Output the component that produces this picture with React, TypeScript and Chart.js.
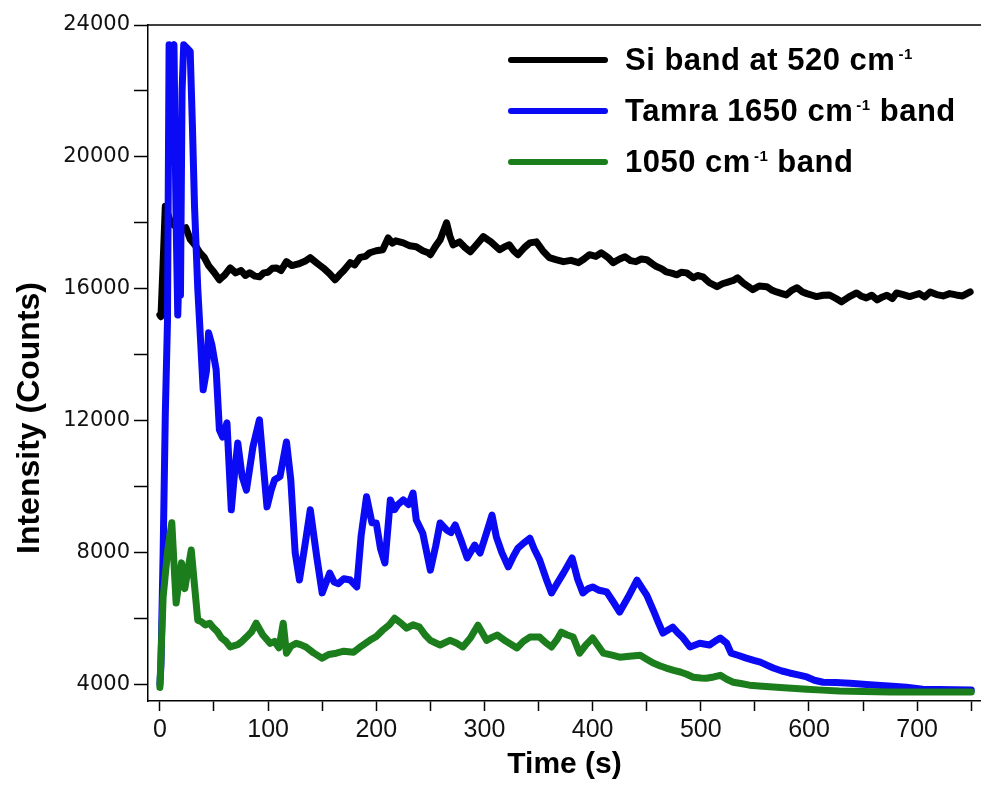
import React, { useEffect, useRef } from 'react';
import { Chart, registerables } from 'chart.js';

Chart.register(...registerables);

// ---- Data ----
const siTime = [0, 1, 3, 5, 7, 10, 14, 17, 20, 24, 28, 33, 37, 41, 45, 50, 55, 60, 65, 70, 75, 79, 83, 88, 92, 96, 100, 104, 108, 112, 117, 122, 128, 134, 139, 145, 151, 157, 162, 166, 170, 176, 180, 185, 190, 194, 200, 206, 211, 215, 218, 225, 231, 237, 243, 248, 250, 255, 259, 265, 268, 271, 277, 282, 287, 293, 299, 306, 314, 318, 323, 327, 331, 337, 342, 348, 354, 360, 366, 373, 380, 387, 392, 397, 403, 408, 414, 419, 425, 430, 435, 440, 445, 450, 455, 459, 464, 468, 473, 478, 482, 487, 493, 497, 502, 508, 515, 520, 525, 530, 534, 540, 548, 554, 561, 566, 570, 575, 579, 584, 589, 594, 598, 603, 607, 613, 619, 625, 630, 637, 644, 648, 653, 658, 663, 668, 672, 677, 681, 687, 693, 697, 702, 707, 712, 718, 724, 730, 736, 742, 749];
const siIntensity = [15200, 15150, 16800, 18500, 18300, 18000, 17900, 18050, 17800, 17850, 17500, 17300, 17090, 16950, 16700, 16500, 16270, 16420, 16630, 16480, 16550, 16400, 16480, 16380, 16360, 16480, 16500, 16620, 16630, 16550, 16820, 16700, 16750, 16830, 16940, 16780, 16630, 16450, 16270, 16420, 16550, 16790, 16720, 16950, 16980, 17090, 17150, 17180, 17540, 17380, 17450, 17390, 17300, 17270, 17150, 17090, 17030, 17300, 17480, 18000, 17600, 17330, 17420, 17250, 17120, 17350, 17580, 17420, 17180, 17260, 17330, 17150, 17030, 17250, 17390, 17420, 17150, 16940, 16880, 16820, 16860, 16790, 16900, 17030, 16980, 17090, 16950, 16790, 16900, 16970, 16850, 16820, 16900, 16880, 16760, 16670, 16600, 16510, 16470, 16420, 16500, 16480, 16330, 16400, 16360, 16180, 16060, 16150, 16200, 16250, 16330, 16150, 15970, 16080, 16060, 15950, 15900, 15850, 15810, 15950, 16030, 15900, 15850, 15800, 15760, 15800, 15810, 15700, 15600, 15750, 15870, 15780, 15720, 15800, 15660, 15750, 15800, 15700, 15870, 15820, 15760, 15800, 15850, 15750, 15900, 15820, 15780, 15850, 15810, 15780, 15900];

const tamraTime = [0, 1, 3, 5, 7, 8.5, 11, 13, 15, 16.5, 18, 19, 20.5, 22, 25, 28, 30, 32, 35, 37, 40, 43, 45, 48, 52, 55, 58, 62, 66, 69, 72, 76, 80, 86, 92, 96, 99, 103, 106, 111, 117, 121, 125, 129, 134, 139, 145, 150, 157, 161, 165, 170, 176, 182, 186, 191, 196, 200, 204, 208, 213, 217, 220, 225, 230, 234, 237, 243, 250, 255, 259, 265, 269, 273, 278, 284, 291, 296, 302, 307, 311, 316, 322, 327, 331, 337, 342, 346, 351, 357, 362, 368, 373, 381, 386, 391, 396, 400, 406, 413, 419, 425, 433, 441, 446, 450, 456, 461, 465, 470, 474, 479, 483, 490, 499, 508, 513, 518, 524, 528, 535, 542, 549, 555, 561, 567, 575, 582, 590, 598, 605, 613, 625, 638, 650, 663, 677, 690, 705, 720, 735, 750];
const tamraIntensity = [4000, 4600, 8000, 12200, 15000, 23400, 23300, 23400, 18000, 15200, 17000, 15800, 22000, 23400, 23300, 23200, 21000, 18500, 16000, 14800, 12930, 13500, 14660, 14300, 13540, 11720, 11500, 11930, 9290, 10400, 11320, 10300, 9890, 11200, 12020, 10500, 9380, 9900, 10200, 10300, 11350, 10200, 8000, 7160, 8200, 9290, 7860, 6770, 7370, 7100, 7050, 7200, 7160, 6950, 8500, 9690, 8900, 8890, 8100, 7680, 9590, 9300, 9450, 9590, 9450, 9800, 8980, 8580, 7460, 8200, 8890, 8680, 8600, 8830, 8400, 7830, 8220, 7980, 8600, 9130, 8470, 8000, 7560, 7900, 8130, 8300, 8430, 8100, 7770, 7200, 6770, 7100, 7370, 7830, 7200, 6770, 6900, 6950, 6850, 6800, 6500, 6190, 6650, 7160, 6900, 6700, 6250, 5850, 5550, 5650, 5730, 5550, 5430, 5130, 5240, 5190, 5300, 5400, 5240, 4940, 4870, 4790, 4720, 4670, 4580, 4490, 4400, 4340, 4280, 4220, 4120, 4060, 4050, 4030, 4000, 3970, 3940, 3910, 3850, 3840, 3830, 3820];

const band1050Time = [0, 3, 7, 11, 15, 18, 20, 23, 26, 29, 32, 35, 38, 42, 46, 49, 53, 57, 61, 65, 72, 76, 80, 85, 89, 95, 102, 106, 110, 114, 117, 121, 126, 130, 135, 142, 150, 156, 163, 170, 179, 186, 194, 200, 206, 212, 217, 223, 228, 234, 240, 245, 250, 255, 259, 268, 274, 280, 287, 294, 302, 307, 312, 320, 330, 336, 342, 351, 357, 362, 367, 371, 376, 382, 388, 394, 400, 410, 418, 425, 434, 444, 450, 456, 462, 468, 475, 481, 487, 493, 500, 505, 512, 518, 524, 530, 537, 545, 557, 570, 584, 598, 612, 628, 650, 675, 710, 750];
const band1050Intensity = [3900, 6650, 8000, 8900, 6460, 7200, 7680, 6900, 7500, 8070, 7000, 5940, 5900, 5800, 5850, 5730, 5600, 5400, 5300, 5130, 5200, 5300, 5430, 5600, 5850, 5500, 5240, 5300, 5100, 5850, 4940, 5150, 5240, 5200, 5130, 4950, 4790, 4900, 4940, 5000, 4970, 5150, 5330, 5450, 5640, 5800, 6000, 5850, 5700, 5800, 5730, 5500, 5330, 5250, 5190, 5330, 5250, 5130, 5400, 5790, 5330, 5420, 5490, 5300, 5100, 5300, 5430, 5430, 5250, 5130, 5350, 5580, 5500, 5430, 4940, 5200, 5400, 4940, 4880, 4820, 4850, 4880, 4760, 4640, 4560, 4490, 4420, 4370, 4300, 4210, 4190, 4180, 4220, 4270, 4150, 4060, 4020, 3970, 3940, 3910, 3880, 3850, 3820, 3790, 3780, 3760, 3760, 3760];

const xTickValues = [0, 50, 100, 150, 200, 250, 300, 350, 400, 450, 500, 550, 600, 650, 700, 750];
const yTickValues = [4000, 6000, 8000, 10000, 12000, 14000, 16000, 18000, 20000, 22000, 24000];

const seriesColors = ['#000000', '#0a0af5', '#1b7d1b'];
const legendMain = ['Si band at 520 cm', 'Tamra 1650 cm', '1050 cm'];
const legendSup = ['-1', '-1', '-1'];
const legendTail = ['', ' band', ' band'];

const xTitle = 'Time (s)';
const yTitle = 'Intensity (Counts)';

const SANS = '"Liberation Sans", Arial, Helvetica, sans-serif';

const frameAndTitlePlugin = {
  id: 'frameAndTitle',
  afterDraw(chart: any) {
    const { ctx, chartArea } = chart;
    ctx.save();
    ctx.strokeStyle = '#000';
    ctx.lineWidth = 1.5;
    ctx.beginPath();
    ctx.moveTo(chartArea.left, chartArea.top);
    ctx.lineTo(chartArea.right, chartArea.top);
    ctx.stroke();
    ctx.translate(chartArea.left - 118, chartArea.top + 393);
    ctx.rotate(-Math.PI / 2);
    ctx.font = `bold 32px ${SANS}`;
    ctx.fillStyle = '#000';
    ctx.textAlign = 'center';
    ctx.textBaseline = 'middle';
    ctx.fillText(yTitle, 0, 0);
    ctx.restore();
  },
};

export default function App() {
  const canvasRef = useRef<HTMLCanvasElement | null>(null);

  useEffect(() => {
    if (!canvasRef.current) return;
    const mk = (xs: number[], ys: number[]) => xs.map((x, i) => ({ x, y: ys[i] }));
    const lineStyle = { borderWidth: 7, pointRadius: 0, tension: 0, borderJoinStyle: 'round', borderCapStyle: 'round', fill: false };
    const chart = new Chart(canvasRef.current, {
      type: 'line',
      data: {
        datasets: [
          { label: legendMain[0], data: mk(siTime, siIntensity), borderColor: seriesColors[0], order: 3, ...lineStyle },
          { label: legendMain[1], data: mk(tamraTime, tamraIntensity), borderColor: seriesColors[1], order: 2, ...lineStyle },
          { label: legendMain[2], data: mk(band1050Time, band1050Intensity), borderColor: seriesColors[2], order: 1, ...lineStyle },
        ],
      },
      options: {
        animation: false,
        responsive: false,
        events: [],
        layout: { padding: { top: 25, left: 0, right: 0, bottom: 0 } },
        plugins: { legend: { display: false }, tooltip: { enabled: false } },
        elements: {
          point: { radius: 0 },
          line: { tension: 0, borderWidth: 7, borderJoinStyle: 'round', borderCapStyle: 'round', fill: false },
        },
        scales: {
          x: {
            type: 'linear',
            min: -11,
            max: 759,
            afterBuildTicks: (s: any) => {
              s.ticks = xTickValues.map((v) => ({ value: v }));
            },
            afterFit: (s: any) => {
              s.height = 84;
            },
            grid: { drawOnChartArea: false, drawTicks: true, tickLength: 10, tickWidth: 1.5, color: '#000', tickColor: '#000' },
            border: { display: true, color: '#000', width: 1.5 },
            ticks: {
              autoSkip: false,
              maxRotation: 0,
              padding: 4,
              color: '#111',
              font: { family: '"Liberation Sans Narrow", "Arial Narrow", ' + SANS, size: 25 },
              callback: (v: any) => (Number(v) % 100 === 0 ? String(v) : ''),
            },
            title: {
              display: true,
              text: xTitle,
              color: '#000',
              font: { family: SANS, size: 30, weight: 'bold' },
              padding: { top: 0, bottom: 2 },
            },
          },
          y: {
            type: 'linear',
            min: 3490,
            max: 24000,
            afterBuildTicks: (s: any) => {
              s.ticks = yTickValues.map((v) => ({ value: v }));
            },
            afterFit: (s: any) => {
              s.width = 148;
            },
            grid: { drawOnChartArea: false, drawTicks: true, tickLength: 14, tickWidth: 1.5, color: '#000', tickColor: '#000' },
            border: { display: true, color: '#000', width: 1.5 },
            ticks: {
              autoSkip: false,
              padding: 4,
              color: '#111',
              font: { family: '"DejaVu Sans", ' + SANS, size: 21 },
              callback: (v: any) => (Number(v) % 4000 === 0 ? String(v) : ''),
            },
          },
        },
      },
      plugins: [frameAndTitlePlugin],
    } as any);
    return () => chart.destroy();
  }, []);

  return (
    <div style={{ position: 'absolute', left: 0, top: 0, width: 981, height: 785, background: '#fff' }}>
      <canvas ref={canvasRef} width={981} height={785} style={{ display: 'block' }} />
      <div style={{ position: 'absolute', left: 508, top: 34 }}>
        {legendMain.map((label, i) => (
          <div key={i} style={{ height: 51, display: 'flex', alignItems: 'center', whiteSpace: 'nowrap' }}>
            <span style={{ display: 'inline-block', width: 100, height: 6, background: seriesColors[i], borderRadius: 3 }} />
            <span style={{ marginLeft: 17, fontFamily: SANS, fontWeight: 'bold', fontSize: 31, letterSpacing: 0.5, color: '#000', lineHeight: '1' }}>
              {label}
              <sup style={{ fontSize: 15, marginLeft: 3 }}>{legendSup[i]}</sup>
              {legendTail[i]}
            </span>
          </div>
        ))}
      </div>
    </div>
  );
}
